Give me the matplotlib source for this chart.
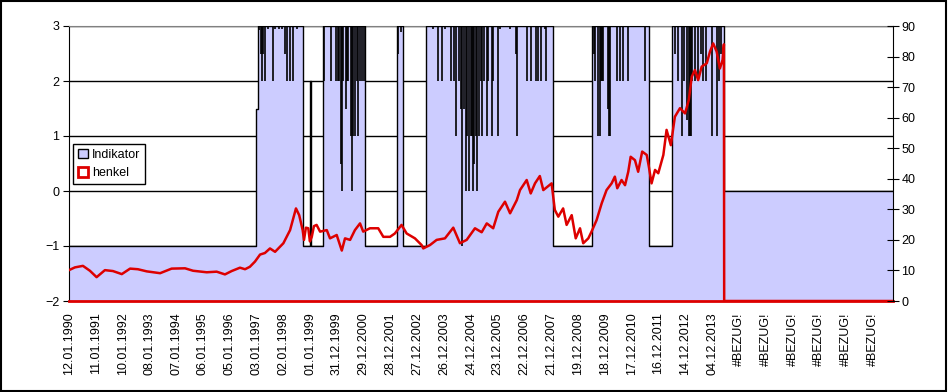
import matplotlib
matplotlib.use("Agg")
import matplotlib.pyplot as plt
from matplotlib.patches import Patch, Rectangle

plt.rcParams['font.family'] = ['Liberation Sans', 'DejaVu Sans']

# category labels (one every ~260 trading days)
labels = ['12.01.1990', '11.01.1991', '10.01.1992', '08.01.1993', '07.01.1994',
          '06.01.1995', '05.01.1996', '03.01.1997', '02.01.1998', '01.01.1999',
          '31.12.1999', '29.12.2000', '28.12.2001', '27.12.2002', '26.12.2003',
          '24.12.2004', '23.12.2005', '22.12.2006', '21.12.2007', '19.12.2008',
          '18.12.2009', '17.12.2010', '16.12.2011', '14.12.2012', '04.12.2013',
          '#BEZUG!', '#BEZUG!', '#BEZUG!', '#BEZUG!', '#BEZUG!', '#BEZUG!']

# Indikator: step changes (position in label units, value)
ind_x = [0, 6.98, 7.05, 8.73, 8.98, 9.03, 9.47, 11.04, 12.24, 12.46, 13.33,
         18.07, 19.50, 21.64, 22.50, 24.44, 30.75]
ind_y = [-1, 1.5, 3, -1, 2, -1, 3, -1, 3, -1, 3,
         -1, 3, -1, 3, 0, 0]

# Indikator: short drops from 3 inside the blocks
spike_x = [7.09, 7.16, 7.20, 7.24, 7.31, 7.43, 7.60, 7.69, 7.84, 7.95, 8.07, 8.12, 8.25, 8.35, 8.51,
           9.51, 9.76, 9.96, 10.02, 10.07, 10.14, 10.18, 10.24, 10.32, 10.36, 10.42, 10.51,
           10.57, 10.61, 10.67, 10.74, 10.79, 10.86, 10.93, 11.01,
           12.28, 12.39,
           13.58, 13.78, 13.93, 14.03, 14.25, 14.37, 14.44, 14.55, 14.62, 14.68, 14.74, 14.81,
           14.86, 14.93, 15.00, 15.04, 15.09, 15.11, 15.18, 15.24, 15.29, 15.36, 15.41, 15.47,
           15.61, 15.65, 15.79, 15.83, 16.02, 16.08, 16.46, 16.68, 16.73, 17.08, 17.24, 17.43,
           17.51, 17.60, 17.76, 17.80,
           19.58, 19.63, 19.75, 19.80, 19.84, 19.88, 19.94, 20.12, 20.15, 20.19, 20.44, 20.56,
           20.68, 20.87, 21.49,
           22.61, 22.71, 22.86, 22.96, 23.05, 23.13, 23.17, 23.21, 23.26, 23.36, 23.48, 23.58,
           23.67, 23.77, 23.98, 24.17, 24.25, 24.33]
spike_y = [2.92, 2.5, 2.0, 2.5, 2.0, 2.94, 2.0, 2.94, 2.94, 2.94, 2.5, 2.0, 2.0, 2.0, 2.94,
           2.0, 2.0, 2.0, 2.0, 2.0, 0.5, 0.0, 2.0, 1.5, 2.0, 2.0, 1.0,
           0.0, 1.0, 1.0, 2.0, 1.0, 2.0, 2.0, 2.0,
           2.5, 2.9,
           2.95, 2.0, 2.0, 2.95, 2.0, 2.0, 1.0, 2.0, 1.5, -1.0, 1.5, 0.0,
           1.0, 0.0, 1.0, 1.0, 0.0, 0.5, 1.0, 0.0, 1.0, 2.0, 1.0, 2.0,
           1.0, 2.0, 1.0, 2.0, 1.0, 2.95, 2.95, 2.5, 1.0, 2.0, 2.0, 2.0,
           2.0, 2.0, 2.95, 2.0,
           2.5, 2.0, 1.0, 1.0, 2.0, 2.0, 2.0, 1.5, 1.0, 1.0, 2.0, 2.0,
           2.0, 2.0, 2.0,
           2.5, 2.0, 1.0, 2.0, 1.3, 1.0, 1.0, 1.0, 2.0, 2.0, 2.0, 2.5,
           2.0, 2.0, 1.0, 1.0, 2.0, 2.5]

# henkel price (right axis)
henkel_x = [0.00, 0.22, 0.52, 0.78, 1.03, 1.34, 1.64, 1.97, 2.28, 2.57, 2.90, 3.40, 3.83,
            4.33, 4.63, 5.14, 5.51, 5.82, 6.07, 6.38, 6.57, 6.75, 6.94, 7.13, 7.31, 7.50,
            7.69, 8.00, 8.25, 8.37, 8.47, 8.59, 8.72, 8.77, 8.84, 8.93, 8.99, 9.06, 9.14,
            9.24, 9.37, 9.62, 9.74, 9.99, 10.18, 10.30, 10.49, 10.67, 10.86, 10.98, 11.23,
            11.54, 11.73, 11.98, 12.16, 12.41, 12.60, 12.91, 13.16, 13.22, 13.47, 13.72,
            14.03, 14.34, 14.59, 14.84, 15.15, 15.40, 15.59, 15.83, 16.02, 16.27, 16.46,
            16.71, 16.83, 17.08, 17.23, 17.39, 17.57, 17.70, 18.01, 18.13, 18.26, 18.44,
            18.57, 18.76, 18.91, 19.07, 19.19, 19.38, 19.50, 19.69, 19.88, 20.06, 20.25,
            20.37, 20.46, 20.62, 20.75, 20.87, 20.96, 21.12, 21.24, 21.39, 21.56, 21.64,
            21.74, 21.87, 21.99, 22.18, 22.30, 22.46, 22.61, 22.80, 22.99, 23.13, 23.24,
            23.36, 23.48, 23.61, 23.80, 23.92, 24.04, 24.17, 24.29, 24.39, 24.44, 24.45,
            30.75]
henkel_y = [10.1, 11.0, 11.5, 9.9, 7.8, 10.1, 9.8, 8.8, 10.6, 10.4, 9.7, 9.1, 10.6,
            10.7, 9.9, 9.4, 9.6, 8.7, 9.8, 10.9, 10.4, 11.2, 12.9, 15.2, 15.7, 17.2,
            16.1, 18.9, 23.2, 27.0, 30.3, 28.1, 23.2, 20.0, 24.0, 23.8, 19.5, 21.0, 24.5,
            24.9, 22.7, 23.2, 20.5, 21.6, 16.5, 20.5, 20.0, 23.2, 25.4, 22.7, 23.8,
            23.8, 21.0, 21.0, 22.1, 24.9, 22.1, 20.5, 18.3, 17.2, 18.3, 20.0,
            20.5, 24.0, 18.9, 20.0, 23.8, 22.5, 25.4, 23.8, 29.2, 32.5, 28.7,
            33.0, 36.3, 39.6, 35.2, 38.5, 40.9, 36.3, 38.5, 29.8, 27.6, 30.3,
            24.9, 28.1, 20.5, 23.8, 18.9, 20.5, 22.7, 26.5, 32.0, 36.3, 38.5,
            40.7, 36.9, 39.6, 37.9, 42.3, 47.2, 46.1, 42.3, 48.9, 47.8, 43.9,
            38.5, 42.9, 41.8, 47.8, 56.0, 51.0, 60.3, 63.1, 61.4, 65.8, 73.4,
            75.6, 72.3, 76.7, 77.8, 81.6, 84.3, 81.6, 76.1, 78.9, 84.0, 0.0,
            0.0]

fig = plt.figure(figsize=(9.48, 3.92), dpi=100)
ax = fig.add_axes([69/948, 1 - 301/392, 824/948, 275/392])

ax.fill_between(ind_x, -2, ind_y, step='post', color='#CCCCFF', lw=0, zorder=2)
ax.step(ind_x, ind_y, where='post', color='black', lw=1, zorder=3)
ax.vlines(spike_x, spike_y, 3, color='black', lw=1.2, zorder=3)

ax.set_xlim(0, 30.75)
ax.set_ylim(-2, 3)
ax.set_yticks([-2, -1, 0, 1, 2, 3])
ax.set_xticks(range(len(labels)))
ax.set_xticklabels(labels, rotation=90, fontsize=9)
ax.tick_params(axis='x', length=0, pad=8)
ax.tick_params(axis='y', direction='out', length=4, labelsize=9, pad=3)
ax.yaxis.grid(True, color='black', lw=1, zorder=1)
ax.set_axisbelow(True)
ax.spines['top'].set_color('#808080')
ax.spines['bottom'].set_color('#DD0000')
ax.spines['bottom'].set_linewidth(2)
ax.spines['right'].set_visible(False)

ax2 = ax.twinx()
ax2.plot(henkel_x, henkel_y, color='#DD0000', lw=1.8, zorder=4)
ax2.set_ylim(0, 90)
ax2.set_yticks(range(0, 91, 10))
ax2.tick_params(axis='y', direction='inout', length=8, labelsize=9, pad=2)
ax2.spines['top'].set_visible(False)
ax2.spines['left'].set_visible(False)
ax2.spines['bottom'].set_visible(False)

handles = [Patch(facecolor='#CCCCFF', edgecolor='black', lw=1),
           Patch(facecolor='white', edgecolor='#DD0000', lw=2)]
leg = ax2.legend(handles, ['Indikator', 'henkel'], loc='lower left',
                 bbox_to_anchor=(0.005, 0.425), borderaxespad=0, fontsize=9,
                 fancybox=False, framealpha=1, edgecolor='black',
                 handlelength=0.8, handleheight=0.8, handletextpad=0.3,
                 borderpad=0.4, labelspacing=0.5)
leg.get_frame().set_linewidth(1)

fig.patches.append(Rectangle((0.001, 0.003), 0.997, 0.995, transform=fig.transFigure,
                             fill=False, edgecolor='black', lw=1.5))

fig.savefig('out.png', dpi=100)
